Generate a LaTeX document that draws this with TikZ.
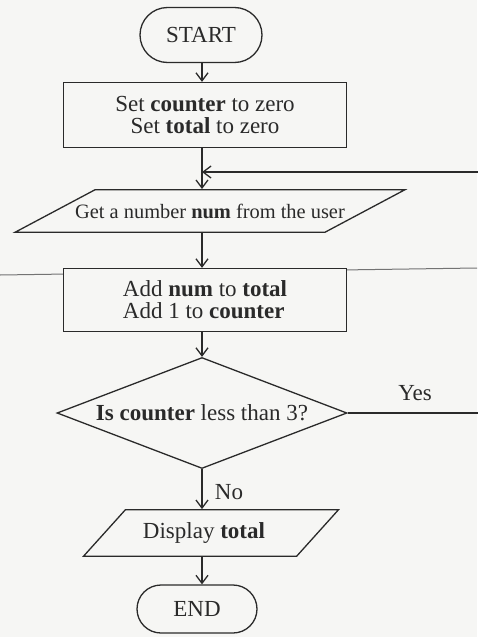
\documentclass[tikz,border=0pt]{standalone}
\usepackage{fontspec}
\setmainfont{Liberation Serif}
\usetikzlibrary{arrows.meta,shapes.geometric,shapes.misc,positioning,calc}
\definecolor{inkgray}{HTML}{2A2A2A}
\definecolor{paper}{HTML}{F6F6F4}

\begin{document}
\begin{tikzpicture}[x=0.5pt,y=-0.5pt,>={Straight Barb[length=4pt,width=6pt]},
  flow/.style={draw=inkgray,line width=0.65pt,text=inkgray,fill=paper,
    font=\fontsize{11.5}{11}\selectfont},
  terminal/.style={flow,rounded rectangle,inner sep=0pt},
  procbox/.style={flow,rectangle,inner sep=0pt},
  iobox/.style={flow,trapezium,trapezium stretches body=true,inner xsep=0pt},
  decision/.style={flow,diamond,aspect=2.6,inner sep=1pt},
  link/.style={draw=inkgray,line width=0.65pt,->},
  tag/.style={text=inkgray,font=\fontsize{11.5}{11}\selectfont}]
  % page
  \fill[paper] (0,0) rectangle (477,637);
  \useasboundingbox (0,0) rectangle (477,637);
  % ruled line of the page
  \draw[black!55,line width=0.5pt] (0,275) -- (477,268);
  % main axis
  \coordinate (axis) at (202,0);
  % boxes
  \node[terminal,minimum width=61pt,minimum height=27.5pt] (start) at (201,35) {START};
  \node[procbox,minimum width=141.5pt,minimum height=32.5pt,align=center] (init) at (205,115)
    {Set \textbf{counter} to zero\\Set \textbf{total} to zero};
  \node[iobox,trapezium left angle=28,trapezium right angle=152,inner ysep=7pt,
    minimum width=195pt,font=\fontsize{10.2}{11}\selectfont] (getnum) at (210,211)
    {\makebox[0pt]{Get a number \textbf{num} from the user}};
  \node[procbox,minimum width=141.5pt,minimum height=31.5pt,align=left] (add) at (205,300)
    {Add \textbf{num} to \textbf{total}\\Add 1 to \textbf{counter}};
  \node[decision,minimum width=145pt,minimum height=55.5pt] (dec) at (202,413)
    {\textbf{Is counter} less than 3?};
  \node[iobox,trapezium left angle=48,trapezium right angle=132,inner ysep=6.4pt,
    minimum width=127.5pt] (show) at (211,533)
    {\makebox[0pt]{\hspace{-7pt}Display \textbf{total}}};
  \node[terminal,minimum width=60pt,minimum height=24pt] (end) at (197,609) {END};
  % labels
  \node[tag] (yes) at (415,393) {Yes};
  \node[tag] (no) at (229,492) {No};
  % arrows
  \coordinate (merge) at (202,172);
  \coordinate (loopright) at (500,413);
  \draw[link] (start.south -| axis) -- (init.north -| axis);
  \draw[link] (init.south -| axis) -- (getnum.north -| axis);
  \draw[link] (getnum.south -| axis) -- (add.north -| axis);
  \draw[link] (add.south -| axis) -- (dec.north);
  \draw[link] (dec.south) -- (show.north -| axis);
  \draw[link] (show.south -| axis) -- (end.north -| axis);
  \draw[link] (dec.east) -- (loopright) |- (merge);
\end{tikzpicture}
\end{document}
